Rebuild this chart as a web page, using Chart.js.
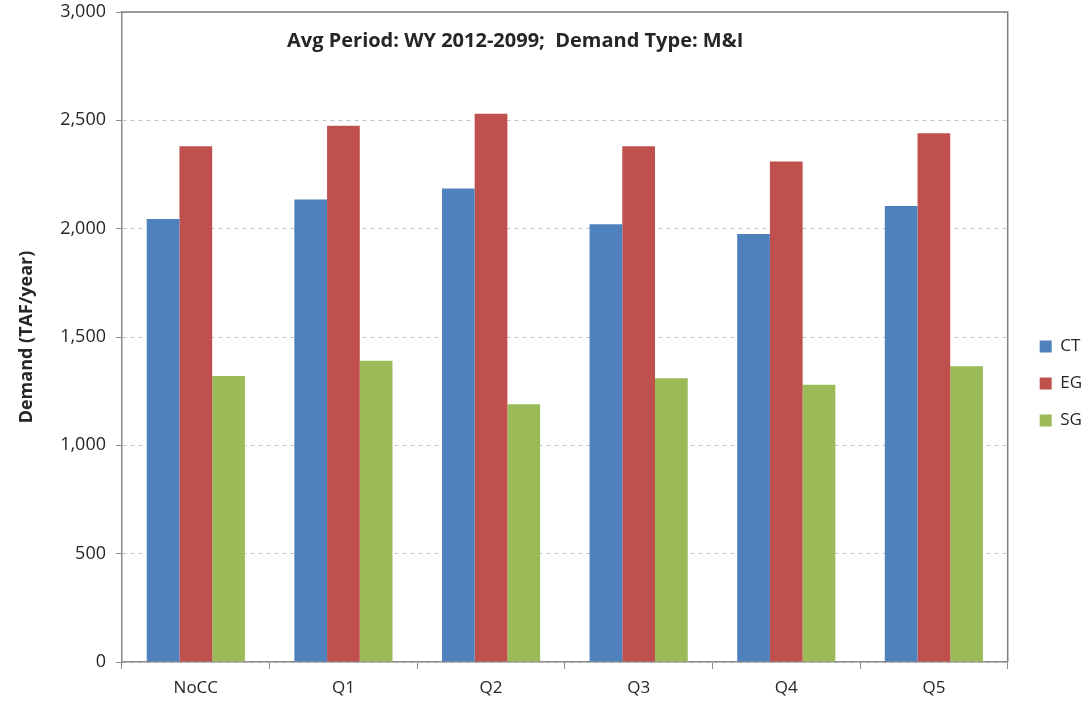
<!DOCTYPE html>
<html>
<head>
<meta charset="utf-8">
<script src="https://cdn.jsdelivr.net/npm/chart.js@4"></script>
<style>
  html, body { margin: 0; padding: 0; background: #fff; }
  #wrap { width: 1092px; height: 704px; }
</style>
</head>
<body>
<div id="wrap"><canvas id="demandChart" width="1092" height="704"></canvas></div>
<script>
// Scenarios and demand per region (TAF/year)
const scenarios = ["NoCC", "Q1", "Q2", "Q3", "Q4", "Q5"];
const ctValues = [2045, 2135, 2185, 2020, 1975, 2105];
const egValues = [2380, 2475, 2530, 2380, 2310, 2440];
const sgValues = [1320, 1390, 1190, 1310, 1280, 1365];
const chartTitle = "Avg Period: WY 2012-2099;  Demand Type: M&I";

const FONT = "'Open Sans', 'Liberation Sans', sans-serif";

// draws the box round the plot and the caption inside it
const plotBox = {
  id: "plotBox",
  afterLayout(chart) {
    // nudge the legend a bit away from the plot, like the original
    chart.legend.left += 12;
    chart.legend.right += 12;
  },
  afterDraw(chart) {
    const { ctx, chartArea: a } = chart;
    ctx.save();
    ctx.strokeStyle = "#7f7f7f";
    ctx.lineWidth = 1.5;
    ctx.beginPath();
    ctx.moveTo(a.left, a.top);
    ctx.lineTo(a.right, a.top);
    ctx.lineTo(a.right, a.bottom);
    ctx.stroke();
    ctx.fillStyle = "#262626";
    ctx.font = "bold 20px " + FONT;
    ctx.textAlign = "left";
    ctx.textBaseline = "middle";
    ctx.fillText(chartTitle, 287, 41);
    ctx.restore();
  },
};

const ctx = document.getElementById("demandChart");
new Chart(ctx, {
  type: "bar",
  data: {
    labels: scenarios,
    datasets: [
      { label: "CT", data: ctValues, backgroundColor: "#4f81bd" },
      { label: "EG", data: egValues, backgroundColor: "#c0504d" },
      { label: "SG", data: sgValues, backgroundColor: "#9bbb59" },
    ],
  },
  options: {
    responsive: false,
    animation: false,
    layout: { padding: { top: 12, left: 12, right: 12, bottom: 0 } },
    datasets: {
      bar: { categoryPercentage: 0.665, barPercentage: 1.0 },
    },
    plugins: {
      title: { display: false },
      tooltip: { enabled: false },
      legend: {
        position: "right",
        title: { display: true, text: " ", font: { size: 1 }, padding: { top: 50, bottom: 0 } },
        labels: {
          boxWidth: 12,
          boxHeight: 12,
          padding: 20,
          color: "#262626",
          font: { family: FONT, size: 17 },
        },
      },
    },
    scales: {
      x: {
        grid: {
          display: true,
          drawOnChartArea: false,
          offset: true,
          tickLength: 7,
          color: "#8c8c8c",
        },
        border: { color: "#8c8c8c", width: 1.5 },
        ticks: {
          color: "#262626",
          padding: 9,
          font: { family: FONT, size: 17 },
        },
        afterFit(scale) { scale.height = 42; },
      },
      y: {
        min: 0,
        max: 3000,
        ticks: {
          stepSize: 500,
          color: "#262626",
          padding: 10,
          font: { family: FONT, size: 18 },
        },
        grid: {
          color: "#c4c4c4",
          tickLength: 6,
          tickColor: "#8c8c8c",
          tickBorderDash: [],
        },
        border: { color: "#8c8c8c", width: 1.5, dash: [4, 4] },
        title: {
          display: true,
          text: "Demand (TAF/year)",
          color: "#262626",
          font: { family: FONT, size: 18, weight: "bold" },
        },
        afterFit(scale) {
          scale.width = 110;
          scale.paddingTop = 0;
        },
      },
    },
  },
  plugins: [plotBox],
});
</script>
</body>
</html>
